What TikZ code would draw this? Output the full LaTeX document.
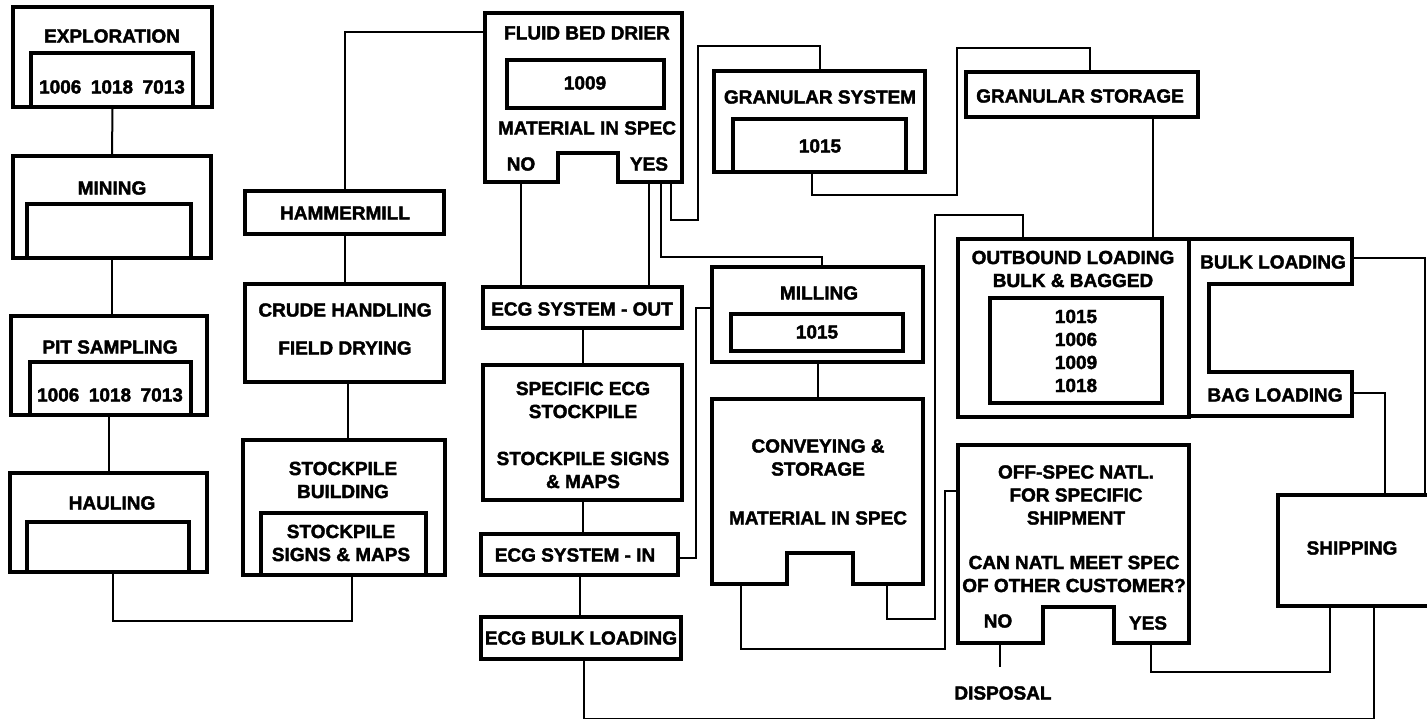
\documentclass[tikz,border=0pt]{standalone}
\usepackage{fontspec}
\newfontfamily\heavyfont{Liberation Sans Bold}[FakeBold=2]
\usepackage{tikz}
\usetikzlibrary{fit}

\begin{document}
\begin{tikzpicture}[x=1pt, y=-1pt,
  bigbox/.style={draw, line width=3.8pt, inner sep=0pt},
  subbox/.style={draw, line width=3.4pt, inner sep=0pt},
  notchbox/.style={line width=3.8pt, line join=miter},
  wire/.style={line width=2pt},
  lbl/.style={font=\heavyfont\fontsize{19}{23}\selectfont, inner sep=0pt, align=center}]
\path[use as bounding box, fill=white] (0,0) rectangle (1427,719);

% mine side
\node[bigbox, fit={(13,7) (212,107)}] (explor) {};
\node[subbox, fit={(31,53) (193,107)}] (explorSub) {};
\node[lbl] (explorT) at (112,36) {EXPLORATION};
\node[lbl] (explorN) at (112,87) {1006\hspace{.5em}1018\hspace{.5em}7013};
\node[bigbox, fit={(13,156) (211,258)}] (mining) {};
\node[subbox, fit={(27,204) (191,258)}] (miningSub) {};
\node[lbl] (miningT) at (112,188) {MINING};
\node[bigbox, fit={(11,316) (207,415)}] (pit) {};
\node[subbox, fit={(30,362) (191,415)}] (pitSub) {};
\node[lbl] (pitT) at (110,347) {PIT SAMPLING};
\node[lbl] (pitN) at (110,395) {1006\hspace{.5em}1018\hspace{.5em}7013};
\node[bigbox, fit={(10,473) (207,572)}] (haul) {};
\node[subbox, fit={(27,522) (189,572)}] (haulSub) {};
\node[lbl] (haulT) at (112,503) {HAULING};

\node[bigbox, fit={(245,191) (444,234)}] (hammer) {};
\node[lbl] (hammerT) at (345,213) {HAMMERMILL};
\node[bigbox, fit={(245,284) (444,382)}] (crude) {};
\node[lbl] (crudeT) at (345,329) {CRUDE HANDLING\\[15pt]FIELD DRYING};
\node[bigbox, fit={(243,440) (445,575)}] (stock) {};
\node[subbox, fit={(261,513) (426,575)}] (stockSub) {};
\node[lbl] (stockT) at (343,480) {STOCKPILE\\BUILDING};
\node[lbl] (stockN) at (341,543) {STOCKPILE\\SIGNS \& MAPS};

% drier and ECG line
\node[fit={(485,13) (682,182)}, inner sep=0pt] (drier) {};
\draw[notchbox] (485,13) -- (682,13) -- (682,182) -- (618,182) -- (618,153)
  -- (558,153) -- (558,182) -- (485,182) -- cycle;
\node[subbox, fit={(507,60) (664,108)}] (drierSub) {};
\node[lbl] (drierT) at (587,33) {FLUID BED DRIER};
\node[lbl] (drierN) at (585,83) {1009};
\node[lbl] (drierQ) at (587,128) {MATERIAL IN SPEC};
\node[lbl] (drierNoT) at (521,164) {NO};
\node[lbl] (drierYesT) at (649,164) {YES};
\coordinate (drierNo) at (521,182);
\coordinate (drierYes) at (649,182);
\coordinate (drierYes2) at (661,182);
\coordinate (drierYes3) at (671,182);

\node[bigbox, fit={(483,287) (682,328)}] (ecgOut) {};
\node[lbl] (ecgOutT) at (582,309) {ECG SYSTEM - OUT};
\node[bigbox, fit={(483,365) (682,500)}] (specEcg) {};
\node[lbl] (specEcgT) at (583,435) {SPECIFIC ECG\\STOCKPILE\\[24pt]STOCKPILE SIGNS\\\& MAPS};
\node[bigbox, fit={(481,534) (678,575)}] (ecgIn) {};
\node[lbl] (ecgInT) at (575,555) {ECG SYSTEM - IN};
\node[bigbox, fit={(481,617) (681,659)}] (ecgBulk) {};
\node[lbl] (ecgBulkT) at (581,638) {ECG BULK LOADING};

% granular, milling, conveying
\node[bigbox, fit={(714,71) (925,172)}] (granSys) {};
\node[subbox, fit={(733,119) (906,172)}] (granSysSub) {};
\node[lbl] (granSysT) at (820,97) {GRANULAR SYSTEM};
\node[lbl] (granSysN) at (820,146) {1015};
\node[bigbox, fit={(966,72) (1198,117)}] (granSto) {};
\node[lbl] (granStoT) at (1080,96) {GRANULAR STORAGE};

\node[bigbox, fit={(712,267) (923,362)}] (milling) {};
\node[subbox, fit={(731,314) (903,351)}] (millingSub) {};
\node[lbl] (millingT) at (819,293) {MILLING};
\node[lbl] (millingN) at (817,332) {1015};

\node[fit={(712,399) (923,584)}, inner sep=0pt] (convey) {};
\draw[notchbox] (712,399) -- (923,399) -- (923,584) -- (853,584) -- (853,553)
  -- (787,553) -- (787,584) -- (712,584) -- cycle;
\node[lbl] (conveyT) at (818,482) {CONVEYING \&\\STORAGE\\[26pt]MATERIAL IN SPEC};
\coordinate (conveyL) at (741,584);
\coordinate (conveyR) at (887,584);

% loading and shipping
\node[bigbox, fit={(958,239) (1189,417)}] (outbound) {};
\node[subbox, fit={(990,298) (1162,403)}] (outboundSub) {};
\node[lbl] (outboundT) at (1073,269) {OUTBOUND LOADING\\BULK \& BAGGED};
\node[lbl] (outboundN) at (1076,351) {1015\\1006\\1009\\1018};

\node[fit={(1189,239) (1352,416)}, inner sep=0pt] (loading) {};
\draw[notchbox] (1189,239) -- (1352,239) -- (1352,284) -- (1209,284) -- (1209,372)
  -- (1352,372) -- (1352,416) -- (1189,416) -- cycle;
\node[lbl] (bulkT) at (1273,262) {BULK LOADING};
\node[lbl] (bagT) at (1275,395) {BAG LOADING};
\coordinate (bulkOut) at (1352,258);
\coordinate (bagOut) at (1352,393);

\node[fit={(958,445) (1189,643)}, inner sep=0pt] (offspec) {};
\draw[notchbox] (958,445) -- (1189,445) -- (1189,643) -- (1114,643) -- (1114,607)
  -- (1043,607) -- (1043,643) -- (958,643) -- cycle;
\node[lbl] (offspecT) at (1076,495) {OFF-SPEC NATL.\\FOR SPECIFIC\\SHIPMENT};
\node[lbl] (offspecQ) at (1074,574) {CAN NATL MEET SPEC\\OF OTHER CUSTOMER?};
\node[lbl] (offspecNoT) at (998,621) {NO};
\node[lbl] (offspecYesT) at (1148,623) {YES};
\coordinate (offspecNo) at (1000,643);
\coordinate (offspecYes) at (1151,643);
\node[lbl] (disposal) at (1003,693) {DISPOSAL};

\node[fit={(1278,495) (1432,606)}, inner sep=0pt] (shipping) {};
\draw[notchbox] (1432,495) -- (1278,495) -- (1278,606) -- (1432,606);
\node[lbl] (shippingT) at (1352,548) {SHIPPING};

% connectors
\draw[wire] (explor.south) -- (mining.north);
\draw[wire] (mining.south) -- (mining.south |- pit.north);
\draw[wire] (pit.south) -- (pit.south |- haul.north);
\draw[wire] ([xshift=4]haul.south) -- ++(0,47) -| ([xshift=8]stock.south);
\draw[wire] (hammer.north) |- ([yshift=-19]drier.north west);
\draw[wire] (hammer.south) -- (crude.north);
\draw[wire] ([xshift=3]crude.south) -- ([xshift=3]crude.south |- stock.north);
\draw[wire] (drierNo) -- (drierNo |- ecgOut.north);
\draw[wire] (drierYes) -- (drierYes |- ecgOut.north);
\draw[wire] (drierYes2) -- ++(0,75) -| ([xshift=4.5]milling.north);
\draw[wire] (drierYes3) -- ++(0,38) -- ++(27,0) -- ++(0,-174) -| (granSys.north);
\draw[wire] ([xshift=-7.5]granSys.south) -- ++(0,21) -- ++(145,0) -- ++(0,-147) -| ([xshift=8]granSto.north);
\draw[wire] ([xshift=71]granSto.south) -- ([xshift=71]granSto.south |- outbound.north);
\draw[wire] (ecgOut.south) -- (specEcg.north);
\draw[wire] (specEcg.south) -- (specEcg.south |- ecgIn.north);
\draw[wire] (ecgIn.south) -- (ecgIn.south |- ecgBulk.north);
\draw[wire] ([yshift=6.5]milling.west) -- ++(-14,0) |- ([yshift=-3.5]ecgIn.east);
\draw[wire] (milling.south) -- (milling.south |- convey.north);
\draw[wire] (conveyL) -- ++(0,65) -- ++(204,0) |- ([yshift=53]offspec.west);
\draw[wire] (conveyR) -- ++(0,35) -- ++(48,0) -- ++(0,-404) -| ([xshift=-50.5]outbound.north);
\draw[wire] (offspecNo) -- ++(0,24);
\draw[wire] (offspecYes) -- ++(0,29) -| ([xshift=-25]shipping.south);
\draw[wire] ([xshift=3]ecgBulk.south) -- ++(0,58) -| ([xshift=19]shipping.south);
\draw[wire] (bulkOut) -| ([xshift=70]shipping.north);
\draw[wire] (bagOut) -| ([xshift=30]shipping.north);
\end{tikzpicture}
\end{document}
